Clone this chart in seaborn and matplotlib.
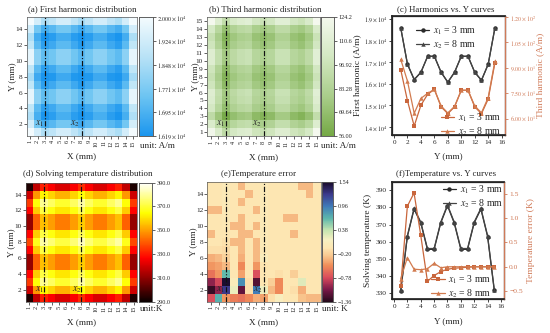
import matplotlib
matplotlib.use("Agg")
import matplotlib.pyplot as plt
import numpy as np
import pandas as pd
import seaborn as sns
from matplotlib.colors import LinearSegmentedColormap
from matplotlib.lines import Line2D

sns.set_theme(style="ticks")
plt.rcParams["font.family"] = ["Liberation Serif", "DejaVu Serif"]
plt.rcParams["mathtext.fontset"] = "stix"
plt.rcParams["axes.unicode_minus"] = True

# ---------------- data ----------------
grid_x = list(range(1, 16))
grid_y = list(range(1, 16))
y_pos = list(range(1, 16))

# rows: Y = 1 ... 15, columns: X = 1 ... 15
first_harmonic = [
    [21000, 19300, 18600, 18850, 19300, 19300, 18850, 18450, 18850, 19300, 19300, 18850, 18550, 19300, 21000],
    [19300, 17600, 16900, 17150, 17600, 17600, 17150, 16750, 17150, 17600, 17600, 17150, 16850, 17600, 19300],
    [18600, 16900, 16200, 16450, 16900, 16900, 16450, 16050, 16450, 16900, 16900, 16450, 16150, 16900, 18600],
    [18900, 17200, 16500, 16750, 17200, 17200, 16750, 16350, 16750, 17200, 17200, 16750, 16450, 17200, 18900],
    [19700, 18000, 17300, 17550, 18000, 18000, 17550, 17150, 17550, 18000, 18000, 17550, 17250, 18000, 19700],
    [19700, 18000, 17300, 17550, 18000, 18000, 17550, 17150, 17550, 18000, 18000, 17550, 17250, 18000, 19700],
    [18900, 17200, 16500, 16750, 17200, 17200, 16750, 16350, 16750, 17200, 17200, 16750, 16450, 17200, 18900],
    [18450, 16750, 16050, 16300, 16750, 16750, 16300, 15900, 16300, 16750, 16750, 16300, 16000, 16750, 18450],
    [18900, 17200, 16500, 16750, 17200, 17200, 16750, 16350, 16750, 17200, 17200, 16750, 16450, 17200, 18900],
    [19700, 18000, 17300, 17550, 18000, 18000, 17550, 17150, 17550, 18000, 18000, 17550, 17250, 18000, 19700],
    [19700, 18000, 17300, 17550, 18000, 18000, 17550, 17150, 17550, 18000, 18000, 17550, 17250, 18000, 19700],
    [18900, 17200, 16500, 16750, 17200, 17200, 16750, 16350, 16750, 17200, 17200, 16750, 16450, 17200, 18900],
    [18550, 16850, 16150, 16400, 16850, 16850, 16400, 16000, 16400, 16850, 16850, 16400, 16100, 16850, 18550],
    [19300, 17600, 16900, 17150, 17600, 17600, 17150, 16750, 17150, 17600, 17600, 17150, 16850, 17600, 19300],
    [21000, 19300, 18600, 18850, 19300, 19300, 18850, 18450, 18850, 19300, 19300, 18850, 18550, 19300, 21000],
]

third_harmonic = [
    [122, 106, 90, 102, 107, 109, 99, 95, 99, 109, 109, 99, 95, 103, 124],
    [106, 90, 74, 86, 91, 93, 83, 79, 83, 93, 93, 83, 79, 87, 108],
    [90, 74, 58, 70, 75, 77, 67, 63, 67, 77, 77, 67, 63, 71, 92],
    [102, 86, 70, 82, 87, 89, 79, 75, 79, 89, 89, 79, 75, 83, 104],
    [107, 91, 75, 87, 92, 94, 84, 80, 84, 94, 94, 84, 80, 88, 109],
    [109, 93, 77, 89, 94, 96, 86, 82, 86, 96, 96, 86, 82, 90, 111],
    [99, 83, 67, 79, 84, 86, 76, 72, 76, 86, 86, 76, 72, 80, 101],
    [95, 79, 63, 75, 80, 82, 72, 68, 72, 82, 82, 72, 68, 76, 97],
    [99, 83, 67, 79, 84, 86, 76, 72, 76, 86, 86, 76, 72, 80, 101],
    [109, 93, 77, 89, 94, 96, 86, 82, 86, 96, 96, 86, 82, 90, 111],
    [109, 93, 77, 89, 94, 96, 86, 82, 86, 96, 96, 86, 82, 90, 111],
    [99, 83, 67, 79, 84, 86, 76, 72, 76, 86, 86, 76, 72, 80, 101],
    [95, 79, 63, 75, 80, 82, 72, 68, 72, 82, 82, 72, 68, 76, 97],
    [103, 87, 71, 83, 88, 90, 80, 76, 80, 90, 90, 80, 76, 84, 105],
    [124, 108, 92, 104, 109, 111, 101, 97, 101, 111, 111, 101, 97, 105, 126],
]

temperature = [
    [293, 317, 331, 326, 321, 321, 326, 333, 326, 321, 321, 326, 331, 317, 293],
    [319, 349, 363, 358, 353, 353, 358, 365, 358, 353, 353, 358, 363, 349, 319],
    [335, 365, 379, 374, 369, 369, 374, 381, 374, 369, 369, 374, 379, 365, 335],
    [327, 357, 371, 366, 361, 361, 366, 373, 366, 361, 361, 366, 371, 357, 327],
    [311, 341, 355, 350, 345, 345, 350, 357, 350, 345, 345, 350, 355, 341, 311],
    [311, 341, 355, 350, 345, 345, 350, 357, 350, 345, 345, 350, 355, 341, 311],
    [327, 357, 371, 366, 361, 361, 366, 373, 366, 361, 361, 366, 371, 357, 327],
    [337, 367, 381, 376, 371, 371, 376, 383, 376, 371, 371, 376, 381, 367, 337],
    [327, 357, 371, 366, 361, 361, 366, 373, 366, 361, 361, 366, 371, 357, 327],
    [311, 341, 355, 350, 345, 345, 350, 357, 350, 345, 345, 350, 355, 341, 311],
    [311, 341, 355, 350, 345, 345, 350, 357, 350, 345, 345, 350, 355, 341, 311],
    [327, 357, 371, 366, 361, 361, 366, 373, 366, 361, 361, 366, 371, 357, 327],
    [335, 365, 379, 374, 369, 369, 374, 381, 374, 369, 369, 374, 379, 365, 335],
    [319, 349, 363, 358, 353, 353, 358, 365, 358, 353, 353, 358, 363, 349, 319],
    [293, 317, 331, 326, 321, 321, 326, 333, 326, 321, 321, 326, 331, 317, 293],
]

temp_error = [
    [-0.75, 0.70, -0.45, -0.55, -0.60, -0.50, -0.35, -0.40, -0.10, 0.10, -0.05, -0.05, -0.25, -0.30, -0.30],
    [-1.30, -1.00, 1.25, 0.20, -1.15, -0.10, 0.95, 0.19, -0.30, -0.50, -0.05, -0.10, -0.35, -0.05, -0.05],
    [-1.00, -0.80, 1.52, 0.05, 0.85, -0.10, -1.20, -0.05, -0.20, -0.50, -0.05, -0.05, 0.25, -0.05, -0.05],
    [-0.60, -0.45, 0.65, -0.05, -0.40, -0.05, -0.75, -0.05, -0.05, -0.10, -0.05, -0.20, -0.05, -0.05, -0.05],
    [-0.45, -0.40, -0.30, -0.05, -0.50, -0.05, -0.45, -0.06, -0.05, -0.05, -0.05, -0.05, -0.05, -0.05, -0.05],
    [-0.35, -0.30, -0.18, -0.05, -0.35, -0.05, -0.30, 0.07, -0.05, -0.05, -0.05, -0.05, -0.05, -0.05, -0.05],
    [-0.10, -0.10, -0.12, -0.05, -0.30, -0.05, -0.30, -0.01, -0.05, -0.05, -0.05, -0.05, -0.05, -0.05, -0.05],
    [-0.05, -0.05, -0.08, -0.30, -0.30, -0.05, -0.30, 0.00, -0.05, -0.05, -0.05, -0.05, -0.05, -0.05, -0.05],
    [-0.30, -0.05, -0.05, -0.05, -0.30, -0.30, -0.05, 0.00, -0.05, -0.05, -0.05, -0.30, -0.05, -0.05, -0.05],
    [-0.05, -0.05, -0.02, -0.30, -0.30, -0.05, -0.30, 0.00, -0.05, -0.05, -0.05, -0.05, -0.05, -0.05, -0.05],
    [-0.05, -0.05, -0.01, -0.05, -0.30, -0.05, -0.05, 0.00, -0.05, -0.05, -0.30, -0.30, -0.05, -0.05, -0.05],
    [-0.30, -0.30, 0.00, -0.05, -0.05, -0.05, -0.30, 0.00, -0.05, -0.05, -0.05, -0.05, -0.05, -0.05, -0.05],
    [-0.05, -0.05, 0.00, -0.05, -0.30, -0.05, -0.05, 0.00, -0.05, -0.05, -0.05, -0.05, -0.05, -0.05, -0.05],
    [-0.05, -0.05, 0.00, -0.05, -0.05, -0.30, -0.05, 0.00, -0.05, -0.05, -0.05, -0.05, -0.05, -0.30, -0.05],
    [-0.05, -0.05, 0.00, -0.05, -0.30, -0.05, -0.05, 0.00, -0.05, -0.05, -0.05, -0.05, -0.30, -0.30, -0.05],
]

first_h_x1 = [18580, 16900, 16190, 16530, 17270, 17270, 16530, 16070, 16530, 17270, 17270, 16530, 16160, 16900, 18580]
first_h_x2 = [18600, 16920, 16200, 16540, 17280, 17280, 16540, 16080, 16540, 17280, 17280, 16540, 16170, 16910, 18600]
third_h_x1 = [88.9, 70.6, 55.7, 68.0, 74.4, 77.3, 67.0, 63.0, 67.0, 76.8, 76.8, 67.0, 63.0, 71.6, 93.0]
third_h_x2 = [95.0, 82.2, 63.2, 72.0, 75.0, 77.3, 67.5, 63.4, 67.3, 76.8, 76.8, 67.5, 63.5, 72.5, 94.0]
temp_x1 = [331.0, 363.0, 379.0, 371.0, 355.5, 355.5, 371.0, 381.0, 371.0, 355.5, 355.5, 371.0, 379.0, 363.0, 331.5]
temp_x2 = [331.5, 363.5, 379.5, 371.5, 356.0, 356.0, 371.5, 381.5, 371.5, 356.0, 356.0, 371.5, 379.5, 363.5, 332.0]
err_x1 = [-0.40, 1.25, 1.52, 0.65, -0.30, -0.18, -0.10, -0.05, -0.03, -0.02, -0.01, 0.0, 0.0, 0.0, 0.0]
err_x2 = [-0.25, 0.19, -0.05, -0.06, -0.04, 0.07, -0.02, 0.0, 0.0, 0.0, 0.0, 0.0, 0.0, 0.0, 0.0]

cb_a_ticks = [16190, 16952, 17714, 18476, 19238, 20000]
cb_a_labels = [r"$1.619\times10^{4}$", r"$1.695\times10^{4}$", r"$1.771\times10^{4}$",
               r"$1.848\times10^{4}$", r"$1.924\times10^{4}$", r"$2.000\times10^{4}$"]
cb_b_ticks = [56.0, 69.64, 83.28, 96.92, 110.56, 124.2]
cb_b_labels = ["56.00", "69.64", "83.28", "96.92", "110.6", "124.2"]
cb_d_ticks = [290, 310, 330, 350, 370, 390]
cb_d_labels = ["290.0", "310.0", "330.0", "350.0", "370.0", "390.0"]
cb_e_ticks = [-1.36, -0.78, -0.20, 0.38, 0.96, 1.54]
cb_e_labels = ["\u22121.36", "\u22120.78", "\u22120.20", "0.38", "0.96", "1.54"]

# ---------------- colormaps ----------------
cmap_a = LinearSegmentedColormap.from_list("a", ["#1a95ee", "#6cc4f2", "#b8e2f6", "#f4fbfe"])
cmap_b = LinearSegmentedColormap.from_list("b", ["#74a844", "#a9cd8a", "#d3e8c2", "#f4f8ee"])
cmap_d = "hot"
cmap_e = LinearSegmentedColormap.from_list("e", [
    (0.00, "#260a1c"), (0.10, "#7a1848"), (0.20, "#d84a5c"), (0.30, "#f08c58"),
    (0.38, "#f8c48c"), (0.45, "#fde6b2"), (0.52, "#f6f0c2"), (0.60, "#c4e4b0"),
    (0.70, "#5cb6ac"), (0.80, "#3f7ab8"), (0.90, "#3c3a8c"), (1.00, "#1a0c2c")])

W, H = 550.0, 333.0


def rect(l, t, r, b):
    return [l / W, 1 - b / H, (r - l) / W, (b - t) / H]


fig = plt.figure(figsize=(5.5, 3.33), dpi=100)
fig.patch.set_facecolor("white")

TFS = 6.4
LFS = 6.6
DASH = (0, (4.5, 1.5, 1.0, 1.5))


def draw_map(ax, cax, data, cmap, vmin, vmax, cticks, clabels, ytick_vals, x1t, x2t):
    df = pd.DataFrame(data, index=grid_y, columns=grid_x).iloc[::-1]
    sns.heatmap(df, ax=ax, cbar_ax=cax, cmap=cmap, vmin=vmin, vmax=vmax,
                xticklabels=False, yticklabels=False, linewidths=0)
    ax.set_xticks([x - 0.5 for x in grid_x])
    ax.set_xticklabels([str(x) for x in grid_x], rotation=90, fontsize=4.5)
    ax.set_yticks([15.5 - y for y in ytick_vals])
    ax.set_yticklabels([str(y) for y in ytick_vals], rotation=0, fontsize=5.2)
    ax.tick_params(axis="both", length=2, width=0.5, pad=1, colors="#222222")
    for s in ax.spines.values():
        s.set_visible(True)
        s.set_linewidth(0.5)
        s.set_color("#555555")
    ax.axvline(2.5, color="#111111", lw=0.85, ls=DASH)
    ax.axvline(7.5, color="#111111", lw=0.85, ls=DASH)
    ax.text(x1t, 13.45, r"$x_1$", ha="right", va="center", fontsize=7)
    ax.text(x2t, 13.45, r"$x_2$", ha="right", va="center", fontsize=7)
    cax.set_yticks(cticks)
    cax.set_yticklabels(clabels, fontsize=4.4)
    cax.tick_params(length=2, width=0.5, pad=1.5)
    for s in cax.spines.values():
        s.set_visible(True)
        s.set_linewidth(0.5)
        s.set_color("#555555")
    ax.set_xlabel("X (mm)", fontsize=LFS, va="center")
    ax.set_ylabel("Y (mm)", fontsize=LFS, va="center")


# (a)
ax_a = fig.add_axes(rect(26.7, 17.2, 136.7, 136.2))
cax_a = fig.add_axes(rect(139.3, 17.2, 152.5, 136.2))
draw_map(ax_a, cax_a, first_harmonic, cmap_a, 16190, 20000, cb_a_ticks, cb_a_labels,
         [2, 4, 6, 8, 10, 12, 14], 2.35, 7.3)
ax_a.xaxis.set_label_coords(0.5, -0.17)
ax_a.yaxis.set_label_coords(-0.135, 0.5)
fig.text(82 / W, 1 - 9.5 / H, "(a) First harmonic distribution", ha="center", va="center", fontsize=TFS)
fig.text(140 / W, 1 - 146.5 / H, "unit: A/m", ha="left", va="center", fontsize=6.6)

# (b)
ax_b = fig.add_axes(rect(207.0, 16.7, 320.3, 136.4))
cax_b = fig.add_axes(rect(320.8, 16.7, 333.5, 136.4))
draw_map(ax_b, cax_b, third_harmonic, cmap_b, 56.0, 124.2, cb_b_ticks, cb_b_labels,
         list(range(1, 16)), 2.35, 7.3)
ax_b.xaxis.set_label_coords(0.5, -0.17)
ax_b.yaxis.set_label_coords(-0.105, 0.5)
fig.text(265 / W, 1 - 9.5 / H, "(b) Third harmonic distribution", ha="center", va="center", fontsize=TFS)
fig.text(321 / W, 1 - 146.5 / H, "unit: A/m", ha="left", va="center", fontsize=6.6)

# (d)
ax_d = fig.add_axes(rect(25.5, 182.7, 137.3, 301.7))
cax_d = fig.add_axes(rect(138.6, 182.7, 151.7, 301.7))
draw_map(ax_d, cax_d, temperature, cmap_d, 290, 390, cb_d_ticks, cb_d_labels,
         [2, 4, 6, 8, 10, 12, 14], 2.5, 7.5)
ax_d.xaxis.set_label_coords(0.5, -0.17)
ax_d.yaxis.set_label_coords(-0.125, 0.5)
fig.text(88 / W, 1 - 174.5 / H, "(d) Solving temperature distribution", ha="center", va="center", fontsize=TFS)
fig.text(140 / W, 1 - 309 / H, "unit:K", ha="left", va="center", fontsize=6.6)

# (e)
ax_e = fig.add_axes(rect(207.3, 182.3, 320.7, 301.7))
cax_e = fig.add_axes(rect(321.5, 182.3, 333.3, 301.7))
draw_map(ax_e, cax_e, temp_error, cmap_e, -1.36, 1.54, cb_e_ticks, cb_e_labels,
         [2, 4, 6, 8, 10, 12, 14], 2.35, 7.3)
ax_e.xaxis.set_label_coords(0.5, -0.17)
ax_e.yaxis.set_label_coords(-0.125, 0.5)
fig.text(259 / W, 1 - 174.5 / H, "(e)Temperature error", ha="center", va="center", fontsize=TFS)
fig.text(322 / W, 1 - 309 / H, "unit: K", ha="left", va="center", fontsize=6.6)

# ---------------- curves ----------------
BLACK = "#2a2a2a"
RED = "#c9663c"
RTXT = "#d07a58"


def style_line_axes(ax, ax2):
    for s in ax.spines.values():
        s.set_linewidth(0.9)
        s.set_color("#222222")
    ax2.spines["right"].set_color(RTXT)
    ax2.spines["right"].set_linewidth(0.9)
    ax.tick_params(axis="both", length=2, width=0.6, pad=1.5)
    ax2.tick_params(axis="y", length=2, width=0.6, pad=1.5, colors=RTXT)


# (c)
ax_c = fig.add_axes(rect(392, 16, 505, 135))
ax_c2 = ax_c.twinx()
sns.lineplot(x=y_pos, y=first_h_x1, ax=ax_c, color=BLACK, lw=0.9, marker="o", markersize=3.2,
             markeredgewidth=0, sort=False)
sns.lineplot(x=y_pos, y=first_h_x2, ax=ax_c, color="#444444", lw=0.9, marker="^", markersize=3.2,
             markeredgewidth=0, sort=False)
sns.lineplot(x=y_pos, y=third_h_x1, ax=ax_c2, color=RED, lw=0.9, marker="s", markersize=2.8,
             markeredgewidth=0, sort=False)
sns.lineplot(x=y_pos, y=third_h_x2, ax=ax_c2, color="#d27b4f", lw=0.9, marker="^", markersize=3.2,
             markeredgewidth=0, sort=False)
ax_c.set_xlim(-0.3, 16.5)
ax_c.set_xticks(range(0, 17, 2))
ax_c.set_xticklabels([str(v) for v in range(0, 17, 2)], fontsize=5.2)
ax_c.set_ylim(13630, 19140)
ax_c.set_yticks([14000, 15000, 16000, 17000, 18000, 19000])
ax_c.set_yticklabels([r"$1.4\times10^{4}$", r"$1.5\times10^{4}$", r"$1.6\times10^{4}$",
                      r"$1.7\times10^{4}$", r"$1.8\times10^{4}$", r"$1.9\times10^{4}$"], fontsize=4.3)
ax_c2.set_ylim(50.4, 120.6)
ax_c2.set_yticks([60, 75, 90, 105, 120])
ax_c2.set_yticklabels([r"$6.00\times10^{1}$", r"$7.50\times10^{1}$", r"$9.00\times10^{1}$",
                       r"$1.05\times10^{2}$", r"$1.20\times10^{2}$"], fontsize=4.3)
style_line_axes(ax_c, ax_c2)
ax_c.set_xlabel("Y (mm)", fontsize=LFS, va="center")
ax_c.xaxis.set_label_coords(0.5, -0.18)
ax_c.set_ylabel("First harmonic (A/m)", fontsize=6.8, va="center")
ax_c.yaxis.set_label_coords(-0.31, 0.5)
ax_c2.set_ylabel("Third harmonic (A/m)", fontsize=6.8, va="center", color=RTXT)
ax_c2.yaxis.set_label_coords(1.31, 0.5)
fig.text(446 / W, 1 - 9.5 / H, "(c) Harmonics vs. Y curves", ha="center", va="center", fontsize=TFS)

hb = [Line2D([], [], color=BLACK, lw=0.9, marker="o", markersize=3.2, markeredgewidth=0),
      Line2D([], [], color="#444444", lw=0.9, marker="^", markersize=3.2, markeredgewidth=0)]
hr = [Line2D([], [], color=RED, lw=0.9, marker="s", markersize=2.8, markeredgewidth=0),
      Line2D([], [], color="#d27b4f", lw=0.9, marker="^", markersize=3.2, markeredgewidth=0)]
labs = [r"$x_1$ = 3 mm", r"$x_2$ = 8 mm"]
lkw = dict(frameon=False, fontsize=7, handlelength=1.4, handletextpad=0.35, labelspacing=0.15,
           borderpad=0, borderaxespad=0, loc="upper left")
ax_c.legend(hb, labs, bbox_to_anchor=(0.21, 0.93), **lkw)
ax_c2.legend(hr, labs, bbox_to_anchor=(0.43, 0.2), **lkw)

# (f)
ax_f = fig.add_axes(rect(392, 182.3, 504.3, 299.3))
ax_f2 = ax_f.twinx()
sns.lineplot(x=y_pos, y=temp_x1, ax=ax_f, color=BLACK, lw=0.9, marker="o", markersize=3.2,
             markeredgewidth=0, sort=False)
sns.lineplot(x=y_pos, y=temp_x2, ax=ax_f, color="#444444", lw=0.9, marker="^", markersize=3.2,
             markeredgewidth=0, sort=False)
sns.lineplot(x=y_pos, y=err_x1, ax=ax_f2, color=RED, lw=0.9, marker="s", markersize=2.8,
             markeredgewidth=0, sort=False)
sns.lineplot(x=y_pos, y=err_x2, ax=ax_f2, color="#d27b4f", lw=0.9, marker="^", markersize=3.2,
             markeredgewidth=0, sort=False)
ax_f.set_xlim(-0.3, 16.5)
ax_f.set_xticks(range(0, 17, 2))
ax_f.set_xticklabels([str(v) for v in range(0, 17, 2)], fontsize=5.2)
ax_f.set_ylim(326.3, 394.7)
ax_f.set_yticks(range(330, 391, 10))
ax_f.set_yticklabels([str(v) for v in range(330, 391, 10)], fontsize=5.4)
ax_f2.set_ylim(-0.67, 1.74)
ax_f2.set_yticks([-0.5, 0.0, 0.5, 1.0, 1.5])
ax_f2.set_yticklabels(["\u22120.5", "0.0", "0.5", "1.0", "1.5"], fontsize=5.4)
style_line_axes(ax_f, ax_f2)
ax_f.set_xlabel("Y (mm)", fontsize=LFS, va="center")
ax_f.xaxis.set_label_coords(0.5, -0.19)
ax_f.set_ylabel("Solving temperature (K)", fontsize=6.8, va="center")
ax_f.yaxis.set_label_coords(-0.213, 0.5)
ax_f2.set_ylabel("Temperature error (K)", fontsize=6.8, va="center", color=RTXT)
ax_f2.yaxis.set_label_coords(1.242, 0.5)
fig.text(446 / W, 1 - 174.5 / H, "(f)Temperature vs. Y curves", ha="center", va="center", fontsize=TFS)

ax_f.legend(hb, labs, bbox_to_anchor=(0.45, 0.99), **lkw)
ax_f2.legend(hr, labs, bbox_to_anchor=(0.35, 0.22), **lkw)

fig.savefig("out.png", dpi=100, facecolor="white")
